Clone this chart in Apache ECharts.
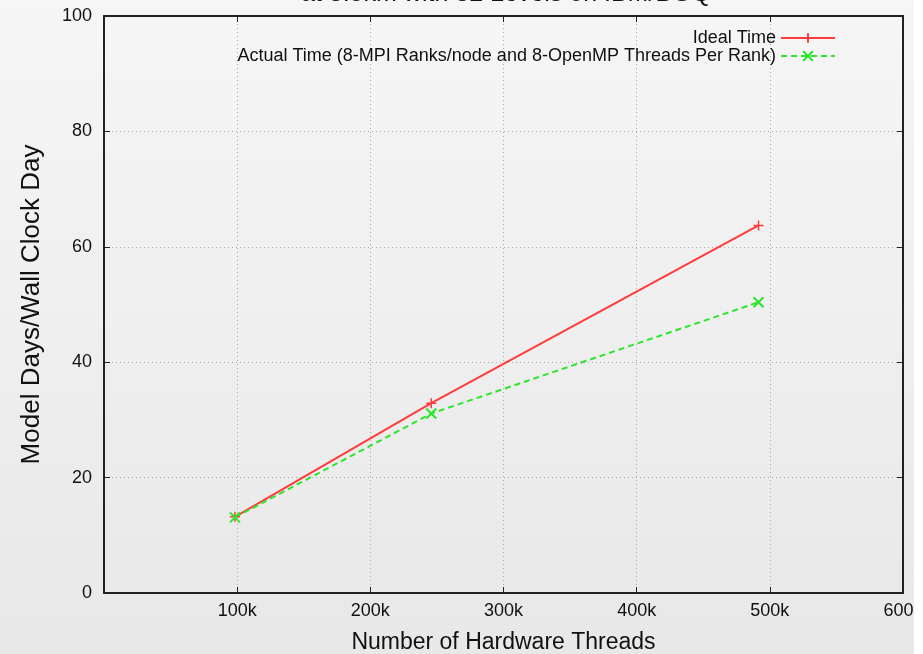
<!DOCTYPE html>
<html>
<head>
<meta charset="utf-8">
<script src="https://cdn.jsdelivr.net/npm/echarts@6/dist/echarts.min.js"></script>
<style>
    html, body { margin: 0; padding: 0; background: #fff; }
    #plot { width: 923px; height: 654px; }
</style>
</head>
<body>
<div id="plot"></div>
<script>
    // values
    let threads = [98304, 245760, 491520]
    let idealTime = [13.2, 32.9, 63.7]
    let actualTime = [13.1, 31.1, 50.4]
    let xTicks = [0, 100000, 200000, 300000, 400000, 500000, 600000]
    let yTicks = [0, 20, 40, 60, 80, 100]

    let seriesNames = ["Ideal Time", "Actual Time (8-MPI Ranks/node and 8-OpenMP Threads Per Rank)"]
    let titleText = "at 3.5km with 32 Levels on IBM/BGQ"

    let font = "Liberation Sans, Arial, sans-serif"
    let red = "#ff3b3b"
    let green = "#2be62b"

    let chart = echarts.init(document.getElementById("plot"))

    function pairs(xs, ys){
        let out = []
        xs.forEach((x, i)=>{ out.push([x, ys[i]]) })
        return out
    }

    // top / right copies of the axes, only for the box frame and its ticks
    let frameAxis = {
        axisLine: { show: true, onZero: false, lineStyle: { color: "#222", width: 2 } },
        axisTick: { show: true, inside: true, length: 6, lineStyle: { color: "#222", width: 1 } },
        axisLabel: { show: false },
        splitLine: { show: false }
    }

    let option = {
        backgroundColor: {
            type: "linear", x: 0, y: 0, x2: 0, y2: 1,
            colorStops: [{ offset: 0, color: "#f6f6f6" }, { offset: 1, color: "#e8e8e8" }]
        },
        animation: false,
        textStyle: { fontFamily: font },
        grid: { left: 104, right: 20, top: 16, bottom: 61, outerBoundsMode: "none", containLabel: false },
        legend: {
            orient: "vertical",
            right: 82,
            top: 24,
            align: "right",
            itemWidth: 54,
            itemHeight: 12,
            itemGap: 0,
            textStyle: { fontFamily: font, fontSize: 18, color: "#111" },
            data: seriesNames
        },
        graphic: [
            {
                // title is cut off by the top edge in the original
                type: "text",
                x: 506,
                y: 7,
                style: {
                    text: titleText, font: "25px " + font, fill: "#111",
                    align: "center", verticalAlign: "bottom"
                }
            },
            {
                type: "rect",
                shape: { x: 914, y: 0, width: 9, height: 654 },
                style: { fill: "#ffffff" },
                z: 100
            }
        ],
        xAxis: [
            {
                type: "value",
                min: xTicks[0],
                max: xTicks[xTicks.length - 1],
                interval: xTicks[1] - xTicks[0],
                name: "Number of Hardware Threads",
                nameLocation: "middle",
                nameGap: 38,
                nameTextStyle: { fontSize: 23, color: "#111", fontFamily: font },
                axisLine: { show: true, onZero: false, lineStyle: { color: "#222", width: 2 } },
                axisTick: { show: true, inside: true, length: 6, lineStyle: { color: "#222" } },
                axisLabel: {
                    fontSize: 18, color: "#111", margin: 9,
                    formatter: v=> v === 0 ? "" : (v / 1000) + "k"
                },
                splitLine: { show: true, lineStyle: { color: "#aaa", type: [1, 3], width: 1 } }
            },
            Object.assign({
                type: "value", position: "top",
                min: xTicks[0], max: xTicks[xTicks.length - 1], interval: xTicks[1] - xTicks[0]
            }, frameAxis)
        ],
        yAxis: [
            {
                type: "value",
                min: yTicks[0],
                max: yTicks[yTicks.length - 1],
                interval: yTicks[1] - yTicks[0],
                name: "Model Days/Wall Clock Day",
                nameLocation: "middle",
                nameGap: 59,
                nameTextStyle: { fontSize: 26, color: "#111", fontFamily: font },
                axisLine: { show: true, onZero: false, lineStyle: { color: "#222", width: 2 } },
                axisTick: { show: true, inside: true, length: 6, lineStyle: { color: "#222" } },
                axisLabel: { fontSize: 18, color: "#111", margin: 12 },
                splitLine: { show: true, lineStyle: { color: "#aaa", type: [1, 3], width: 1 } }
            },
            Object.assign({
                type: "value", position: "right",
                min: yTicks[0], max: yTicks[yTicks.length - 1], interval: yTicks[1] - yTicks[0]
            }, frameAxis)
        ],
        series: [
            {
                name: seriesNames[0],
                type: "line",
                data: pairs(threads, idealTime),
                color: red,
                symbol: "path://M0,5L10,5M5,0L5,10",
                symbolSize: 10,
                itemStyle: { color: red, borderColor: red, borderWidth: 1.5 },
                lineStyle: { color: red, width: 2 }
            },
            {
                name: seriesNames[1],
                type: "line",
                data: pairs(threads, actualTime),
                color: green,
                symbol: "path://M0,0L10,10M10,0L0,10",
                symbolSize: 10,
                itemStyle: { color: green, borderColor: green, borderWidth: 2 },
                lineStyle: { color: green, width: 2, type: [6, 4] }
            }
        ]
    };
    chart.setOption(option)
</script>
</body>
</html>
